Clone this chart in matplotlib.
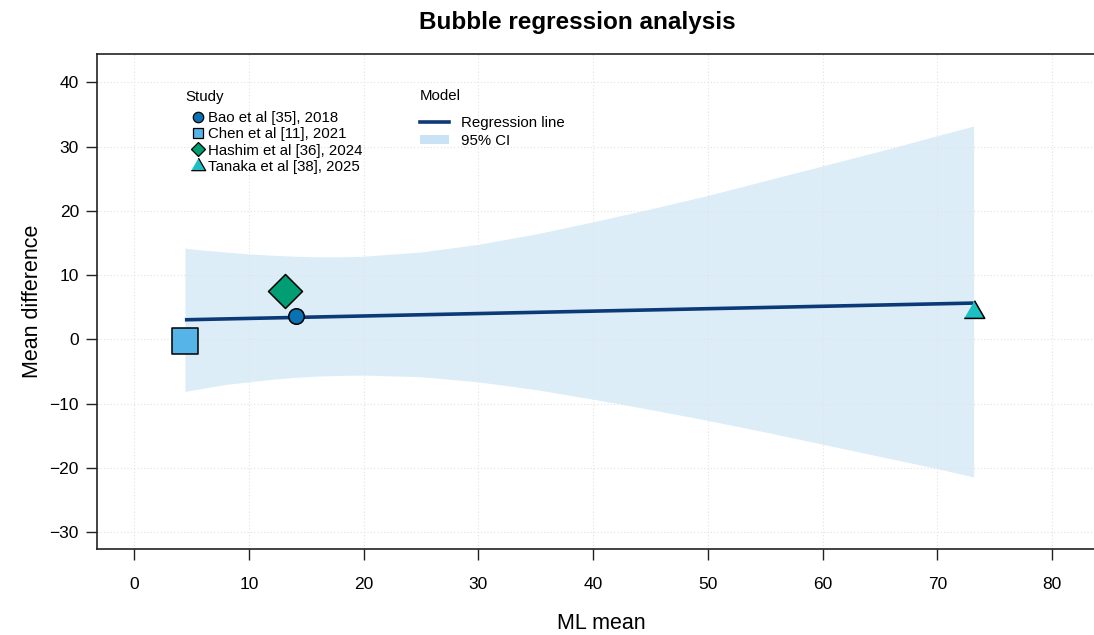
import matplotlib
matplotlib.use("Agg")
import matplotlib.pyplot as plt
from matplotlib.lines import Line2D
from matplotlib.patches import Patch
import numpy as np

plt.rcParams["font.family"] = ["Liberation Sans", "DejaVu Sans"]

# Study-level data
studies = ["Bao et al [35], 2018", "Chen et al [11], 2021",
           "Hashim et al [36], 2024", "Tanaka et al [38], 2025"]
ml_mean = [14.12, 4.43, 13.19, 73.16]
mean_diff = [3.57, -0.25, 7.57, 4.25]
bubble_size = [125, 330, 300, 290]
tri = [(-1, -0.577), (1, -0.577), (0, 1.155)]
marker_shapes = ["o", "s", "D", tri]
marker_colors = ["#0a72b4", "#56b4e9", "#019e73", "#1dbfc2"]

# Fitted meta-regression line
intercept = 2.89
slope = 0.0378

# 95% confidence band read along the moderator range
ci_x = [4.43, 6, 8, 10, 12, 14, 16, 18, 20, 25, 30, 35, 40, 45, 50, 55, 60, 65, 70, 73.16]
ci_upper = [14.2, 13.9, 13.6, 13.3, 13.1, 12.95, 12.85, 12.85, 12.95, 13.6, 14.8, 16.4,
            18.3, 20.3, 22.4, 24.7, 27.0, 29.3, 31.7, 33.2]
ci_lower = [-8.1, -7.6, -7.0, -6.6, -6.2, -5.9, -5.7, -5.6, -5.55, -5.8, -6.6, -7.8,
            -9.3, -10.9, -12.6, -14.4, -16.3, -18.2, -20.1, -21.4]

x_ticks = [0, 10, 20, 30, 40, 50, 60, 70, 80]
y_ticks = [-30, -20, -10, 0, 10, 20, 30, 40]

W, H = 1094, 635
fig = plt.figure(figsize=(W / 100, H / 100), dpi=100)
ax = fig.add_axes([97 / W, (H - 549) / H, (W - 97) / W + 0.01, (549 - 54) / H])

ax.set_xlim(-3.23, 84.6)
ax.set_ylim(-32.6, 44.4)

# Confidence band and regression line
ax.fill_between(ci_x, ci_lower, ci_upper, color="#ddedf8", linewidth=0, zorder=0.3)
x_line = np.array([min(ml_mean), max(ml_mean)])
ax.plot(x_line, intercept + slope * x_line, color="#0c3a77", linewidth=2.6,
        solid_capstyle="butt", zorder=2)

# Study bubbles
for xi, yi, s, m, c in zip(ml_mean, mean_diff, bubble_size, marker_shapes, marker_colors):
    ax.scatter([xi], [yi], s=s, marker=m, color=c, edgecolors="black",
               linewidths=1.1, zorder=3)

# Axes styling
ax.set_xticks(x_ticks)
ax.set_yticks(y_ticks)
ax.set_yticklabels(["\u2212" + str(-v) if v < 0 else str(v) for v in y_ticks])
ax.tick_params(axis="both", direction="out", length=8, width=1.0, labelsize=12.5,
               color="#222222", labelcolor="black")
ax.tick_params(axis="x", pad=12)
ax.tick_params(axis="y", pad=5)
ax.spines["right"].set_visible(False)
for sp in ["left", "top", "bottom"]:
    ax.spines[sp].set_linewidth(1.2)
    ax.spines[sp].set_color("#222222")
ax.set_axisbelow(True)
ax.grid(True, color="#e2e2e2", linestyle=(0, (1, 2)), linewidth=0.8)

ax.set_xlabel("ML mean", fontsize=15.5, labelpad=15)
ax.set_ylabel("Mean difference", fontsize=15.5, labelpad=5)
fig.text(577 / W, 1 - 23 / H, "Bubble regression analysis", ha="center", va="center",
         fontsize=17.5, fontweight="bold")

# Legends
study_handles = [Line2D([], [], linestyle="none", marker=m, markersize=ms,
                        markerfacecolor=c, markeredgecolor="black", markeredgewidth=0.9)
                 for m, c, ms in zip(marker_shapes, marker_colors, [7.5, 7, 7, 12])]
leg1 = ax.legend(study_handles, studies, title="Study", loc="upper left",
                 bbox_to_anchor=(185 / W, 1 - 90 / H), bbox_transform=fig.transFigure,
                 frameon=False, fontsize=10.8, title_fontsize=10.8, alignment="left",
                 handlelength=1.73, handletextpad=-0.2, labelspacing=0.16,
                 borderpad=0.0, borderaxespad=0.0)
leg1._legend_box.sep = 5
ax.add_artist(leg1)

model_handles = [Line2D([], [], color="#0c3a77", linewidth=2.6),
                 Patch(facecolor="#c9e3f4", edgecolor="none")]
leg2 = ax.legend(model_handles, ["Regression line", "95% CI"], title="Model",
                 loc="upper left", bbox_to_anchor=(420 / W, 1 - 89 / H),
                 bbox_transform=fig.transFigure, frameon=False, fontsize=10.8,
                 title_fontsize=10.8, alignment="left", handlelength=1.93,
                 handleheight=0.55, handletextpad=0.78, labelspacing=0.28,
                 borderpad=0.0, borderaxespad=0.0)
leg2._legend_box.sep = 9

fig.savefig("out.png", dpi=100)
